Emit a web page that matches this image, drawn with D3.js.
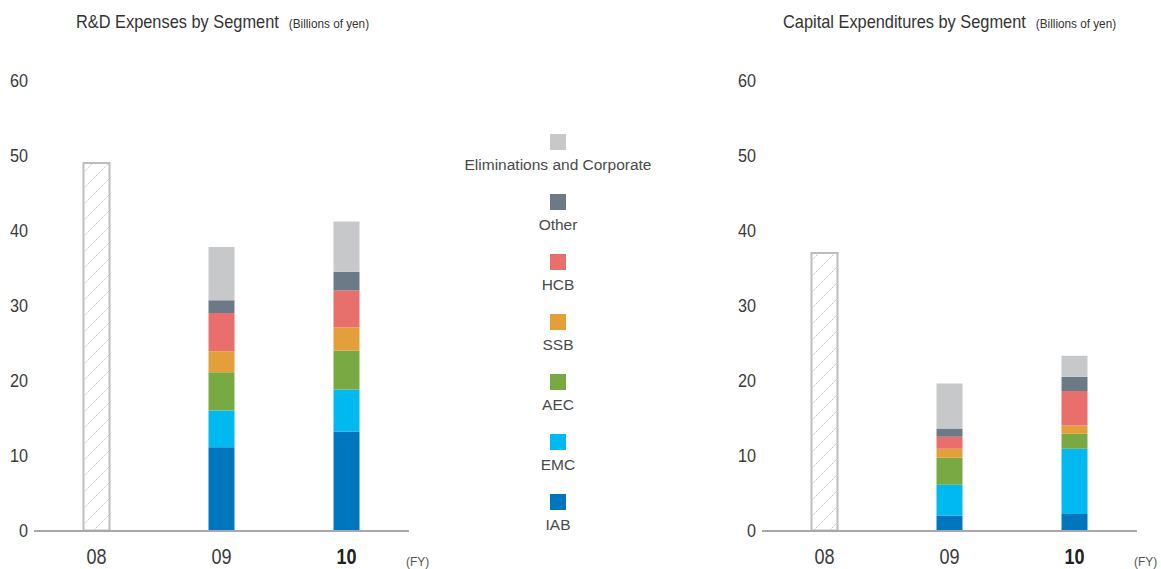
<!DOCTYPE html>
<html>
<head>
<meta charset="utf-8">
<script src="https://cdn.jsdelivr.net/npm/d3@7"></script>
<style>
  html, body { margin: 0; padding: 0; background: #fff; }
  svg { display: block; }
</style>
</head>
<body>
<svg id="chart" width="1161" height="569"></svg>
<script>
// Fiscal years on the x axis
const fiscalYears = ["08", "09", "10"];

// Segments, bottom of the stack first
const segments = ["IAB", "EMC", "AEC", "SSB", "HCB", "Other", "Eliminations and Corporate"];
const segmentColors = ["#0076bf", "#00b9f0", "#78a942", "#e3a03a", "#e86f6c", "#6c7a88", "#c7c8ca"];

// R&D expenses (billions of yen)
const rdTotalFY08 = 49.0;
const rdFY09 = [11.1, 4.9, 5.1, 2.8, 5.1, 1.7, 7.1];
const rdFY10 = [13.2, 5.6, 5.2, 3.1, 4.9, 2.5, 6.7];

// Capital expenditures (billions of yen)
const capexTotalFY08 = 37.0;
const capexFY09 = [2.0, 4.1, 3.6, 1.2, 1.6, 1.1, 6.0];
const capexFY10 = [2.2, 8.7, 2.0, 1.1, 4.6, 1.9, 2.8];

// Y axis ticks
const yTicks = [0, 10, 20, 30, 40, 50, 60];

const svg = d3.select("#chart");
const sans = "'Liberation Sans', Arial, sans-serif";

// Condensed text: regular sans squeezed horizontally around its anchor point
function condensed(sel, x, y, squeeze) {
  return sel
    .attr("transform", (d, i) => {
      const px = typeof x === "function" ? x(d, i) : x;
      const py = typeof y === "function" ? y(d, i) : y;
      return `translate(${px},${py}) scale(${squeeze},1)`;
    })
    .attr("x", 0).attr("y", 0)
    .attr("font-family", sans);
}

// Hatch pattern for the FY08 totals
const defs = svg.append("defs");
const pat = defs.append("pattern")
  .attr("id", "hatch")
  .attr("patternUnits", "userSpaceOnUse")
  .attr("width", 16).attr("height", 16);
pat.append("path")
  .attr("d", "M0,16 L16,0 M-4,4 L4,-4 M12,20 L20,12")
  .attr("stroke", "#c4c4c4")
  .attr("stroke-width", 1)
  .attr("stroke-dasharray", "1.4,0.8")
  .attr("fill", "none");

const y = d3.scaleLinear().domain([0, 60]).range([530.5, 80.5]);

function drawPanel(opts) {
  const g = svg.append("g");
  const x = d3.scaleBand()
    .domain(fiscalYears)
    .range([opts.x0, opts.x0 + 375])
    .paddingInner(0.792)
    .paddingOuter(0.396);

  // Title and unit
  const title = g.append("text")
    .attr("font-size", 18)
    .attr("fill", "#333")
    .text(opts.title);
  condensed(title, opts.titleX, 28, 0.91);
  const titleW = title.node().getComputedTextLength() * 0.91;
  const unit = g.append("text")
    .attr("font-size", 12.5)
    .attr("fill", "#333")
    .text("(Billions of yen)");
  condensed(unit, opts.titleX + titleW + 10, 28, 0.94);

  // Y tick labels
  const yt = g.selectAll("text.ytick")
    .data(yTicks)
    .join("text")
    .attr("class", "ytick")
    .attr("dy", "0.36em")
    .attr("text-anchor", "end")
    .attr("font-size", 18)
    .attr("fill", "#3a3a3a")
    .text(d => d);
  condensed(yt, opts.x0 - 6, d => y(d), 0.9);

  // FY08 total (hatched)
  g.append("rect")
    .attr("x", x("08"))
    .attr("y", y(opts.total08))
    .attr("width", x.bandwidth())
    .attr("height", y(0) - y(opts.total08))
    .attr("fill", "url(#hatch)")
    .attr("stroke", "#bdbdbd")
    .attr("stroke-width", 2);

  // Stacked segments for FY09 and FY10
  const rows = [
    Object.fromEntries([["fy", "09"], ...segments.map((s, i) => [s, opts.fy09[i]])]),
    Object.fromEntries([["fy", "10"], ...segments.map((s, i) => [s, opts.fy10[i]])])
  ];
  const stacked = d3.stack().keys(segments)(rows);
  g.selectAll("g.layer")
    .data(stacked)
    .join("g")
    .attr("class", "layer")
    .attr("fill", (d, i) => segmentColors[i])
    .selectAll("rect")
    .data(d => d)
    .join("rect")
    .attr("x", d => x(d.data.fy))
    .attr("y", d => y(d[1]))
    .attr("width", x.bandwidth())
    .attr("height", d => y(d[0]) - y(d[1]));

  // Baseline
  g.append("line")
    .attr("x1", opts.x0).attr("x2", opts.x0 + 375)
    .attr("y1", y(0) + 0.5).attr("y2", y(0) + 0.5)
    .attr("stroke", "#a8a8ac")
    .attr("stroke-width", 2);

  // X labels
  const xl = g.selectAll("text.xlab")
    .data(fiscalYears)
    .join("text")
    .attr("class", "xlab")
    .attr("text-anchor", "middle")
    .attr("font-size", 22)
    .attr("font-weight", d => d === "10" ? "bold" : "normal")
    .attr("fill", d => d === "10" ? "#222" : "#3a3a3a")
    .text(d => d);
  condensed(xl, d => x(d) + x.bandwidth() / 2, 564, 0.82);

  const fy = g.append("text")
    .attr("font-size", 13)
    .attr("fill", "#555")
    .text("(FY)");
  condensed(fy, opts.x0 + 372, 566, 0.92);
}

drawPanel({
  x0: 34, titleX: 76, title: "R&D Expenses by Segment",
  total08: rdTotalFY08, fy09: rdFY09, fy10: rdFY10
});
drawPanel({
  x0: 762, titleX: 783, title: "Capital Expenditures by Segment",
  total08: capexTotalFY08, fy09: capexFY09, fy10: capexFY10
});

// Legend, top item first
const legendItems = segments.map((s, i) => ({ name: s, color: segmentColors[i] })).reverse();
const legend = svg.append("g");
const li = legend.selectAll("g")
  .data(legendItems)
  .join("g")
  .attr("transform", (d, i) => `translate(558, ${134 + i * 60})`);
li.append("rect")
  .attr("x", -8).attr("y", 0)
  .attr("width", 16).attr("height", 16)
  .attr("fill", d => d.color);
li.append("text")
  .attr("x", 0).attr("y", 36)
  .attr("text-anchor", "middle")
  .attr("font-family", sans)
  .attr("font-size", 15.5)
  .attr("fill", "#4a4a4a")
  .text(d => d.name);
</script>
</body>
</html>
